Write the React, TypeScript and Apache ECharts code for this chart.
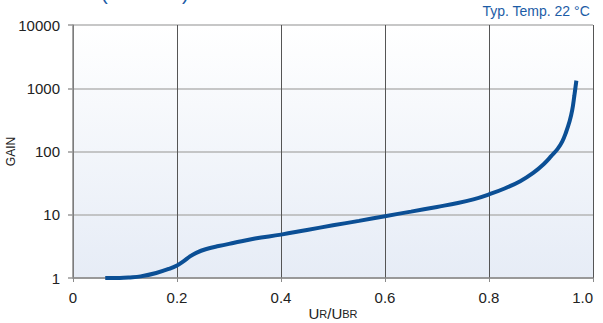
import React, { useEffect, useRef } from "react";
import * as echarts from "echarts";

const ratio: number[] = [0.062, 0.09, 0.11, 0.13, 0.16, 0.185, 0.2, 0.213, 0.225, 0.237, 0.255, 0.28, 0.31, 0.35, 0.4, 0.45, 0.5, 0.55, 0.6, 0.65, 0.7, 0.74, 0.77, 0.8, 0.83, 0.86, 0.885, 0.905, 0.92, 0.932, 0.941, 0.948, 0.955, 0.96, 0.964, 0.968];
const gain: number[] = [1.0, 1.0, 1.02, 1.06, 1.2, 1.4, 1.58, 1.85, 2.2, 2.5, 2.85, 3.2, 3.6, 4.2, 4.85, 5.75, 6.8, 8.0, 9.5, 11.2, 13.3, 15.3, 17.5, 21, 26, 34, 46, 63, 85, 110, 145, 200, 300, 450, 750, 1320];
const xTicks: number[] = [0, 0.2, 0.4, 0.6, 0.8, 1.0];
const tempLabel = "Typ. Temp. 22 °C";

const FONT = "'Liberation Sans', Arial, sans-serif";

export default function App() {
  const ref = useRef<HTMLDivElement>(null);
  useEffect(() => {
    if (!ref.current) return;
    const chart = echarts.init(ref.current, null, { renderer: "svg" });
    const data = ratio.map((r, i) => [r, gain[i]]);
    chart.setOption({
      animation: false,
      textStyle: { fontFamily: FONT },
      grid: {
        left: 73,
        right: 10,
        top: 25,
        bottom: 45,
        containLabel: false,
        outerBoundsMode: "none",
        show: true,
        borderWidth: 0,
        backgroundColor: new echarts.graphic.LinearGradient(0, 0, 0, 1, [
          { offset: 0, color: "#ffffff" },
          { offset: 1, color: "#e6ecf6" },
        ]),
      },
      xAxis: {
        type: "value",
        min: xTicks[0],
        max: xTicks[xTicks.length - 1],
        interval: 0.2,
        name: "{u|U}{s|R}{u|/U}{s|BR}",
        nameLocation: "middle",
        nameGap: 29,
        nameMoveOverlap: false,
        nameTextStyle: {
          verticalAlign: "top",
          rich: {
            u: { fontSize: 15, color: "#222", fontFamily: FONT, verticalAlign: "bottom", lineHeight: 14 },
            s: { fontSize: 11, color: "#222", fontFamily: FONT, verticalAlign: "bottom", lineHeight: 14, padding: [0, 0, 1.5, 0] },
          },
        },
        axisLine: { show: true, lineStyle: { color: "#8a8a8a", width: 1.5 } },
        axisTick: { show: true, length: 4, lineStyle: { color: "#8a8a8a" } },
        axisLabel: {
          fontSize: 15,
          color: "#222",
          margin: 12,
          alignMaxLabel: "right",
          formatter: (v: number) => (v === 0 ? "0" : v.toFixed(1)),
        },
        splitLine: { show: true, lineStyle: { color: "#555555", width: 1 } },
      },
      yAxis: {
        type: "log",
        logBase: 10,
        min: 1,
        max: 10000,
        name: "GAIN",
        nameLocation: "middle",
        nameGap: 56,
        nameRotate: 90,
        nameMoveOverlap: false,
        nameTextStyle: { fontSize: 12, color: "#222", fontFamily: FONT },
        axisLine: { show: true, lineStyle: { color: "#8a8a8a", width: 1.5 } },
        axisTick: { show: true, length: 5, lineStyle: { color: "#9a9a9a", width: 1.5 } },
        axisLabel: { fontSize: 15, color: "#222", margin: 13, formatter: (v: number) => String(Math.round(v)) },
        splitLine: { show: true, lineStyle: { color: "#b4b4b4", width: 1.5 } },
      },
      graphic: [
        {
          type: "text",
          right: 13,
          top: 4,
          style: { text: tempLabel, fontSize: 14, fill: "#1c5ca6", fontFamily: FONT },
        },
        {
          type: "text",
          left: 101,
          top: -17,
          style: { text: "(", fontSize: 20, fill: "#1c5ca6", fontFamily: FONT },
        },
        {
          type: "text",
          left: 182,
          top: -17,
          style: { text: ")", fontSize: 20, fill: "#1c5ca6", fontFamily: FONT },
        },
      ],
      series: [
        {
          type: "line",
          data,
          smooth: 0.4,
          showSymbol: false,
          lineStyle: { color: "#0b4f95", width: 4 },
          z: 5,
        },
      ],
    });
    return () => chart.dispose();
  }, []);
  return (
    <div
      ref={ref}
      style={{ position: "absolute", left: 0, top: 0, width: 603, height: 323, background: "#fff" }}
    />
  );
}
